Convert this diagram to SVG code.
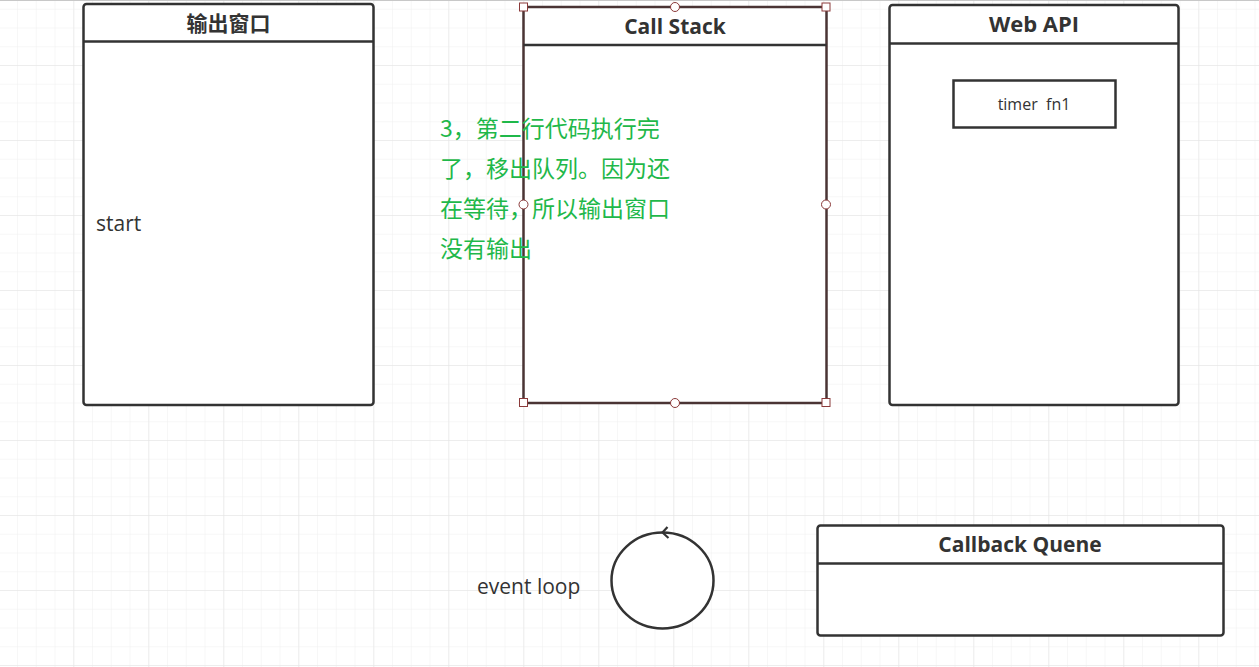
<svg xmlns="http://www.w3.org/2000/svg" width="1259" height="667" viewBox="0 0 1259 667">
<defs>
<pattern id="minor" x="-1.7" y="-10" width="18.75" height="18.75" patternUnits="userSpaceOnUse">
<path d="M0 0H18.75M0 0V18.75" fill="none" stroke="#f0f0f0" stroke-width="1"/>
</pattern>
<pattern id="major" x="-1.7" y="-10" width="75" height="75" patternUnits="userSpaceOnUse">
<path d="M0 0H75M0 0V75" fill="none" stroke="#e3e3e3" stroke-width="1"/>
</pattern>
<style>
.box{fill:#fff;stroke:#333;stroke-width:2.5}
.sep{stroke:#333;stroke-width:2.5}
.title{font-family:"Open Sans","Noto Sans CJK SC",sans-serif;font-weight:bold;font-size:21px;fill:#333;text-anchor:middle}
.lbl{font-family:"Open Sans","Noto Sans CJK SC",sans-serif;font-size:21px;fill:#333}
.green{font-family:"Noto Sans CJK SC",sans-serif;font-size:23px;fill:#1fb84a}
.hs{fill:#fff;stroke:#8b3a3a;stroke-width:1}
</style>
</defs>
<rect width="1259" height="667" fill="#fff"/>
<rect width="1259" height="667" fill="url(#minor)"/>
<rect width="1259" height="667" fill="url(#major)"/>
<line x1="0" y1="0.5" x2="1259" y2="0.5" stroke="#c8c8c8"/>

<g id="output">
<rect class="box" x="83.5" y="4" width="290" height="401" rx="3"/>
<line class="sep" x1="83.5" y1="41.5" x2="373.5" y2="41.5"/>
<text class="title" x="228.5" y="31" font-family="Noto Sans CJK SC, sans-serif">输出窗口</text>
<text class="lbl" x="96" y="231">start</text>
</g>

<g id="callstack">
<rect x="523.5" y="7" width="303" height="396" fill="#fff" stroke="#4a3434" stroke-width="2.5"/>
<line x1="523.5" y1="45" x2="826.5" y2="45" stroke="#333" stroke-width="2.5"/>
<text class="title" x="675" y="34">Call Stack</text>
</g>

<g id="webapi">
<rect class="box" x="889.5" y="5" width="289" height="400" rx="3"/>
<line class="sep" x1="889.5" y1="43.5" x2="1178.5" y2="43.5"/>
<text class="title" x="1034" y="32" style="font-size:22px">Web API</text>
</g>

<g id="timer">
<rect x="953.5" y="80.5" width="162" height="47" fill="#fff" stroke="#333" stroke-width="2.5"/>
<text x="1034" y="110" font-family="Open Sans, sans-serif" font-size="16" fill="#333" text-anchor="middle" xml:space="preserve">timer  fn1</text>
</g>

<g id="callback">
<rect class="box" x="817.5" y="525.5" width="406" height="110" rx="3"/>
<line class="sep" x1="817.5" y1="563.5" x2="1223.5" y2="563.5"/>
<text class="title" x="1020" y="552">Callback Quene</text>
</g>

<g id="eventloop">
<ellipse cx="662.5" cy="580.5" rx="51" ry="48" fill="#fff" stroke="#333" stroke-width="2.5"/>
<path d="M667.5 527 L662.5 532.5 L668.5 538" fill="none" stroke="#333" stroke-width="2.2"/>
<text class="lbl" x="477" y="594">event loop</text>
</g>

<g id="note">
<text class="green" x="440" y="137">3，第二行代码执行完</text>
<text class="green" x="440" y="177">了，移出队列。因为还</text>
<text class="green" x="440" y="217">在等待，所以输出窗口</text>
<text class="green" x="440" y="257">没有输出</text>
</g>

<g id="handles">
<rect class="hs" x="519.5" y="3" width="8" height="8"/>
<rect class="hs" x="822" y="3" width="8" height="8"/>
<rect class="hs" x="519.5" y="398.5" width="8" height="8"/>
<rect class="hs" x="822" y="398.5" width="8" height="8"/>
<circle class="hs" cx="675" cy="7" r="4.5"/>
<circle class="hs" cx="523.5" cy="204.5" r="4.5"/>
<circle class="hs" cx="826" cy="204.5" r="4.5"/>
<circle class="hs" cx="675" cy="403" r="4.5"/>
</g>
</svg>
